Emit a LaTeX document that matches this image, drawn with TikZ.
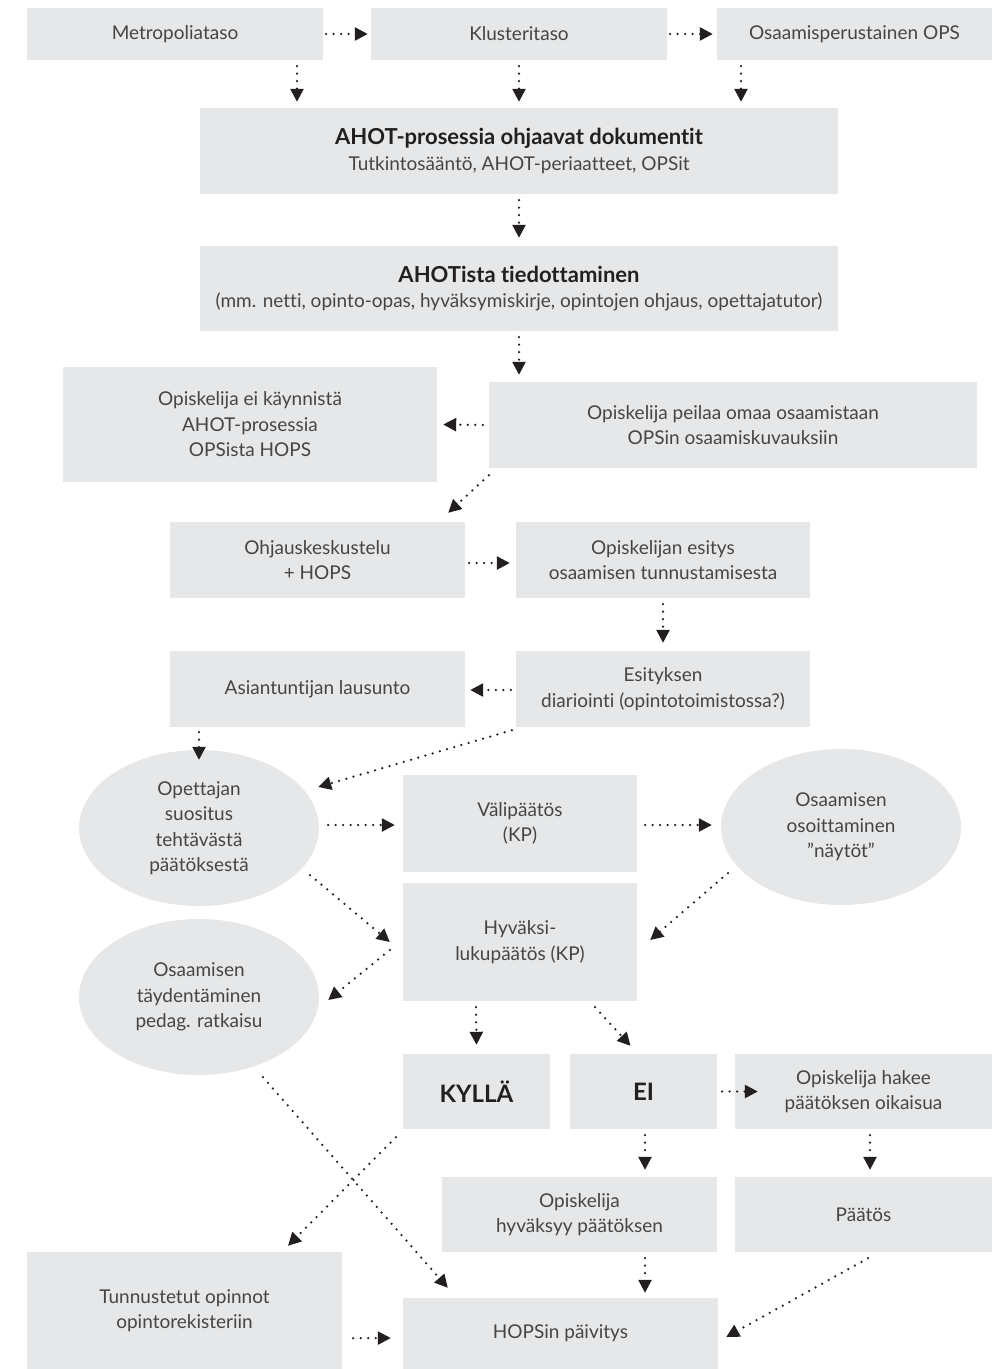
\documentclass[tikz,border=0pt]{standalone}
\usepackage{fontspec}
\setmainfont{Lato}[Ligatures=NoCommon]
\usetikzlibrary{arrows.meta,calc,shapes.geometric}
\definecolor{boxgray}{HTML}{E6E7E8}
\definecolor{txtgray}{HTML}{454545}
\definecolor{inkblack}{HTML}{231F20}
\newcommand{\headtext}[1]{{\fontsize{22}{27}\selectfont\color{inkblack}\bfseries #1}}
\newcommand{\answer}[1]{{\fontsize{24}{27}\selectfont\color{inkblack}\bfseries #1}}

\begin{document}
\begin{tikzpicture}[x=1pt,y=-1pt,
  box/.style={fill=boxgray, inner sep=0pt, align=center, text=txtgray,
              font=\fontsize{19}{25.5}\selectfont},
  oval/.style={box, ellipse, minimum width=240pt, minimum height=156pt},
  arr/.style={draw=inkblack, line width=2.5pt, line cap=round,
              dash pattern=on 0pt off 7.5pt,
              -{Triangle[length=13pt,width=13pt]}}
]
\useasboundingbox (0,0) rectangle (992,1369);

% --- levels ---
\node[box, minimum width=296pt, minimum height=52pt] (meta) at (175,34) {Metropoliataso};
\node[box, minimum width=296pt, minimum height=52pt] (klus) at (519,34) {Klusteritaso};
\node[box, minimum width=275pt, minimum height=52pt] (ops) at (854.5,34) {Osaamisperustainen OPS};

% --- documents and information ---
\node[box, minimum width=638pt, minimum height=86pt] (docs) at (519,151)
  {\headtext{AHOT-prosessia ohjaavat dokumentit}\\Tutkintosääntö, AHOT-periaatteet, OPSit};
\node[box, minimum width=638pt, minimum height=85pt] (tied) at (519,288.5)
  {\headtext{AHOTista tiedottaminen}\\(mm. netti, opinto-opas, hyväksymiskirje, opintojen ohjaus, opettajatutor)};

% --- student side ---
\node[box, minimum width=374pt, minimum height=115pt] (eik) at (250,424.5)
  {Opiskelija ei käynnistä\\AHOT-prosessia\\OPSista HOPS};
\node[box, minimum width=488pt, minimum height=86pt] (peil) at (733,425)
  {Opiskelija peilaa omaa osaamistaan\\OPSin osaamiskuvauksiin};
\node[box, minimum width=295pt, minimum height=76pt] (ohj) at (317.5,560)
  {Ohjauskeskustelu\\+ HOPS};
\node[box, minimum width=294pt, minimum height=76pt] (esit) at (663,560)
  {Opiskelijan esitys\\osaamisen tunnustamisesta};
\node[box, minimum width=295pt, minimum height=76pt] (asi) at (317.5,689)
  {Asiantuntijan lausunto};
\node[box, minimum width=294pt, minimum height=76pt] (diar) at (663,689)
  {Esityksen\\diariointi (opintotoimistossa?)};

% --- decisions ---
\node[oval] (opet) at (199,828) {Opettajan\\suositus\\tehtävästä\\päätöksestä};
\node[box, minimum width=234pt, minimum height=97pt] (vali) at (520,823.5) {Välipäätös\\(KP)};
\node[oval] (osoi) at (841,827) {Osaamisen\\osoittaminen\\”näytöt”};
\node[box, minimum width=234pt, minimum height=118pt] (hyv) at (520,942) {Hyväksi-\\lukupäätös (KP)};
\node[oval] (tayd) at (199,997) {Osaamisen\\täydentäminen\\pedag. ratkaisu};

\node[box, minimum width=147pt, minimum height=75pt] (kyl) at (476.5,1091.5) {\answer{KYLLÄ}};
\node[box, minimum width=147pt, minimum height=75pt] (ei) at (643.5,1091.5) {\answer{EI}};
\node[box, minimum width=257pt, minimum height=75pt] (hak) at (863.5,1091.5)
  {Opiskelija hakee\\päätöksen oikaisua};
\node[box, minimum width=275pt, minimum height=75pt] (hyvk) at (579.5,1214.5)
  {Opiskelija\\hyväksyy päätöksen};
\node[box, minimum width=257pt, minimum height=75pt] (paat) at (863.5,1214.5) {Päätös};
\node[box, minimum width=315pt, minimum height=117pt] (tunn) at (184.5,1310.5)
  {Tunnustetut opinnot\\opintorekisteriin};
\node[box, minimum width=315pt, minimum height=71pt] (hops) at (560.5,1333.5) {HOPSin päivitys};

% --- connectors ---
\draw[arr] ($(meta.east)+(3,0)$) -- ($(klus.west)+(-3,0)$);
\draw[arr] ($(klus.east)+(3,0)$) -- ($(ops.west)+(-4,0)$);
\draw[arr] ($(meta.south)+(122,6)$) -- ($(docs.north)+(-222,-6)$);
\draw[arr] ($(klus.south)+(0,6)$) -- ($(docs.north)+(0,-6)$);
\draw[arr] ($(ops.south)+(-113.5,6)$) -- ($(docs.north)+(222,-6)$);
\draw[arr] ($(docs.south)+(0,6)$) -- ($(tied.north)+(0,-8)$);
\draw[arr] ($(tied.south)+(0,6)$) -- ($(peil.north)+(-214,-7)$);
\draw[arr] ($(peil.west)+(-6,0)$) -- ($(eik.east)+(6,0)$);
\draw[arr] ($(peil.south west)+(0,7)$) -- ($(ohj.north east)+(-17,-9)$);
\draw[arr] ($(ohj.east)+(4,3)$) -- ($(esit.west)+(-6,3)$);
\draw[arr] ($(esit.south)+(0,6)$) -- ($(diar.north)+(0,-8)$);
\draw[arr] ($(diar.west)+(-5,1)$) -- ($(asi.east)+(5,1)$);
\draw[arr] ($(asi.south)+(-118.5,5)$) -- ($(opet.north)+(0,10)$);
\draw[arr] ($(diar.south west)+(-4,3)$) -- ($(opet.east)+(-1,-41)$);
\draw[arr] ($(opet.east)+(9,-3)$) -- ($(vali.west)+(-8,1.5)$);
\draw[arr] ($(vali.east)+(8,1.5)$) -- ($(osoi.west)+(-9,-2)$);
\draw[arr] ($(opet.center)+(111,47)$) -- ($(hyv.west)+(-13,0)$);
\draw[arr] ($(osoi.center)+(-113,46)$) -- ($(hyv.east)+(13,-2)$);
\draw[arr] ($(hyv.west)+(-13,8)$) -- ($(tayd.east)+(9,3)$);
\draw[arr] ($(hyv.south)+(-44,6)$) -- ($(kyl.north)+(0,-9)$);
\draw[arr] ($(hyv.south)+(75,6)$) -- ($(ei.north)+(-13,-8)$);
\draw[arr] ($(ei.east)+(5,0)$) -- ($(hak.west)+(23,0)$);
\draw[arr] ($(ei.south)+(1.5,6)$) -- ($(hyvk.north)+(65.5,-7)$);
\draw[arr] ($(hak.south)+(6.5,6)$) -- ($(paat.north)+(6.5,-7)$);
\draw[arr] ($(hyvk.south)+(65.5,6)$) -- ($(hops.north)+(84.5,-5)$);
\draw[arr] ($(paat.south)+(4.5,6)$) -- ($(hops.east)+(8,3.5)$);
\draw[arr] ($(tayd.south)+(64,2)$) -- ($(hops.north west)+(45,-10)$);
\draw[arr] ($(kyl.south west)+(-7,8)$) -- ($(tunn.north)+(103.5,-6)$);
\draw[arr] ($(tunn.south east)+(11,-31)$) -- ($(hops.west)+(-12,4.5)$);
\end{tikzpicture}
\end{document}
